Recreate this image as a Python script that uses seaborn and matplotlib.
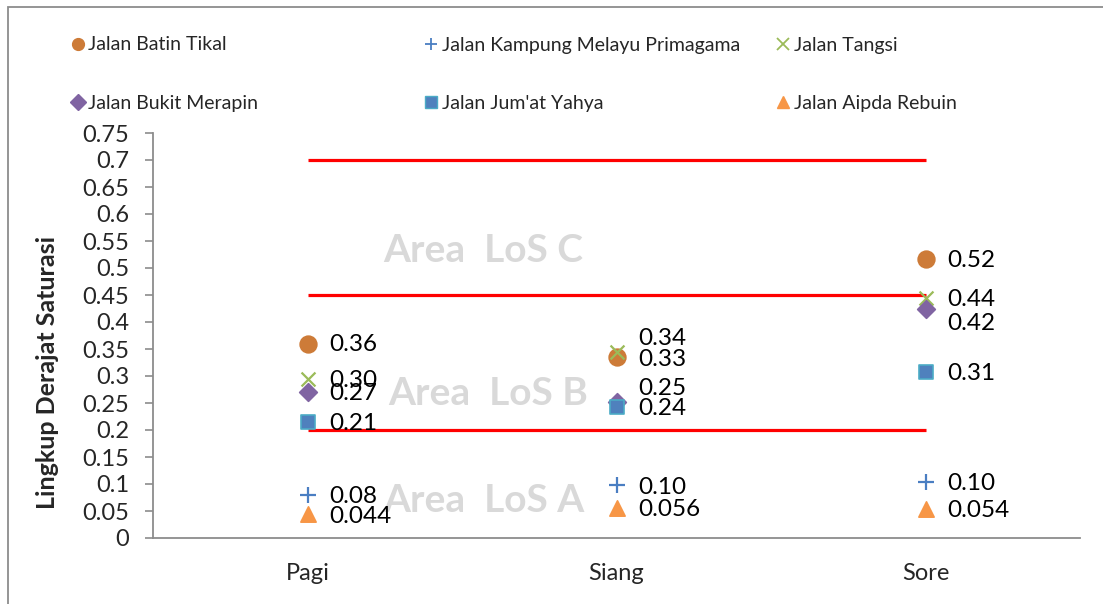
import matplotlib
matplotlib.use("Agg")
import matplotlib.pyplot as plt
import matplotlib.patches as mpatches
from matplotlib.lines import Line2D
import seaborn as sns
import pandas as pd

# ---------------- data ----------------
periods = ["Pagi", "Siang", "Sore"]
batin_tikal = [0.36, 0.335, 0.517]
kampung_melayu = [0.08, 0.098, 0.104]
tangsi = [0.295, 0.344, 0.444]
bukit_merapin = [0.27, 0.252, 0.425]
jumat_yahya = [0.214, 0.242, 0.307]
aipda_rebuin = [0.044, 0.056, 0.054]

batin_lbl = ["0.36", "0.33", "0.52"]
kampung_lbl = ["0.08", "0.10", "0.10"]
tangsi_lbl = ["0.30", "0.34", "0.44"]
merapin_lbl = ["0.27", "0.25", "0.42"]
jumat_lbl = ["0.21", "0.24", "0.31"]
aipda_lbl = ["0.044", "0.056", "0.054"]

los_limits = [0.2, 0.45, 0.7]
yticks = [0, 0.05, 0.1, 0.15, 0.2, 0.25, 0.3, 0.35, 0.4, 0.45, 0.5, 0.55, 0.6, 0.65, 0.7, 0.75]
ytick_labels = ["0", "0.05", "0.1", "0.15", "0.2", "0.25", "0.3", "0.35", "0.4", "0.45",
                "0.5", "0.55", "0.6", "0.65", "0.7", "0.75"]
area_labels = ["Area  LoS A", "Area  LoS B", "Area  LoS C"]

# ---------------- style ----------------
sns.set_theme(style="white")
plt.rcParams["font.family"] = ["Lato", "DejaVu Sans"]

series = [
    ("Jalan Batin Tikal", batin_tikal, batin_lbl, "o", "#CD7B38", "#CD7B38", 12, [-1, -2, -1]),
    ("Jalan Kampung Melayu Primagama", kampung_melayu, kampung_lbl, "+", "#4A7EC2", "#4A7EC2", 12, [-1, -1.5, -1]),
    ("Jalan Tangsi", tangsi, tangsi_lbl, "x", "#9BBB59", "#9BBB59", 10, [-1, 10, -1]),
    ("Jalan Bukit Merapin", bukit_merapin, merapin_lbl, "D", "#8064A2", "#8064A2", 9, [-1, 10, -10.5]),
    ("Jalan Jum'at Yahya", jumat_yahya, jumat_lbl, "s", "#4F81BD", "#4BACC6", 10, [-1, -1, -1]),
    ("Jalan Aipda Rebuin", aipda_rebuin, aipda_lbl, "^", "#F79646", "#F79646", 11, [-1.5, -1, -1]),
]

fig = plt.figure(figsize=(11.03, 6.04), dpi=100)
fig.patch.set_facecolor("white")
ax = fig.add_axes([153 / 1103, 1 - 538 / 604, (1080 - 153) / 1103, (538 - 133) / 604])

xpos = list(range(len(periods)))

# LoS boundary lines
for lim in los_limits:
    ax.hlines(lim, xpos[0], xpos[-1], colors="#FF0000", linewidth=2.3, zorder=2)

# background area texts
area_pos = [(0.571, 0.070), (0.584, 0.2685), (0.568, 0.533)]
for (tx, ty), t in zip(area_pos, area_labels):
    ax.text(tx, ty, t, ha="center", va="center", fontsize=28, fontweight="bold",
            color="#D9D9D9", zorder=1)

handles = []
for name, vals, lbls, mk, fc, ec, ms, dy in series:
    df = pd.DataFrame({"x": xpos, "y": vals})
    lw = 1.6 if mk in ["+", "x"] else 1.2
    kw = dict(marker=mk, s=ms ** 2, linewidth=lw, zorder=3)
    if mk in ["+", "x"]:
        sns.scatterplot(data=df, x="x", y="y", ax=ax, color=fc, legend=False, **kw)
    else:
        sns.scatterplot(data=df, x="x", y="y", ax=ax, color=fc, edgecolor=ec, legend=False, **kw)
    for xi, v, l, d in zip(xpos, vals, lbls, dy):
        ax.annotate(l, xy=(xi, v), xytext=(16, d), textcoords="offset points",
                    ha="left", va="center", fontsize=17.5, color="black", zorder=4)
    handles.append(Line2D([], [], linestyle="none", marker=mk, markersize=8.5,
                          markerfacecolor=fc, markeredgecolor=ec, color=fc,
                          markeredgewidth=1.3 if mk in ["+", "x"] else 1.0, label=name))

ax.set_xlim(-0.5, 2.5)
ax.set_ylim(0, 0.75)
ax.set_xticks(xpos)
ax.set_xticklabels(periods)
ax.set_yticks(yticks)
ax.set_yticklabels(ytick_labels)
ax.set_xlabel("")
ax.set_ylabel("")
ax.tick_params(axis="y", length=6, width=1.2, color="#8C8C8C", direction="out",
               labelsize=17, pad=11, left=True)
ax.tick_params(axis="x", length=0, labelsize=17, pad=18)
for s in ["top", "right"]:
    ax.spines[s].set_visible(False)
for s in ["left", "bottom"]:
    ax.spines[s].set_color("#8C8C8C")
    ax.spines[s].set_linewidth(1.3)
ax.set_facecolor("none")

# y-axis title
fig.text(48 / 1103, 1 - 372 / 604, "Lingkup Derajat Saturasi", rotation=90,
         ha="center", va="center", fontsize=18, fontweight="bold")

# legend entries placed on a grid
leg_x = [71 / 1103, 424 / 1103, 776 / 1103]
leg_y = [1 - 45 / 604, 1 - 103 / 604]
order = [(0, 0), (1, 0), (2, 0), (0, 1), (1, 1), (2, 1)]
for h, (c, r) in zip(handles, order):
    fig.legend(handles=[h], loc="center left", bbox_to_anchor=(leg_x[c], leg_y[r]),
               frameon=False, fontsize=14, handlelength=0.7, handletextpad=0.2,
               borderpad=0, borderaxespad=0)

# outer chart border
fig.add_artist(mpatches.Rectangle((8 / 1103, -0.1), 2.0, 1 - 7 / 604 + 0.1,
                                  transform=fig.transFigure, fill=False,
                                  edgecolor="#8C8C8C", linewidth=1.3))

fig.savefig("out.png", dpi=100, facecolor="white")
